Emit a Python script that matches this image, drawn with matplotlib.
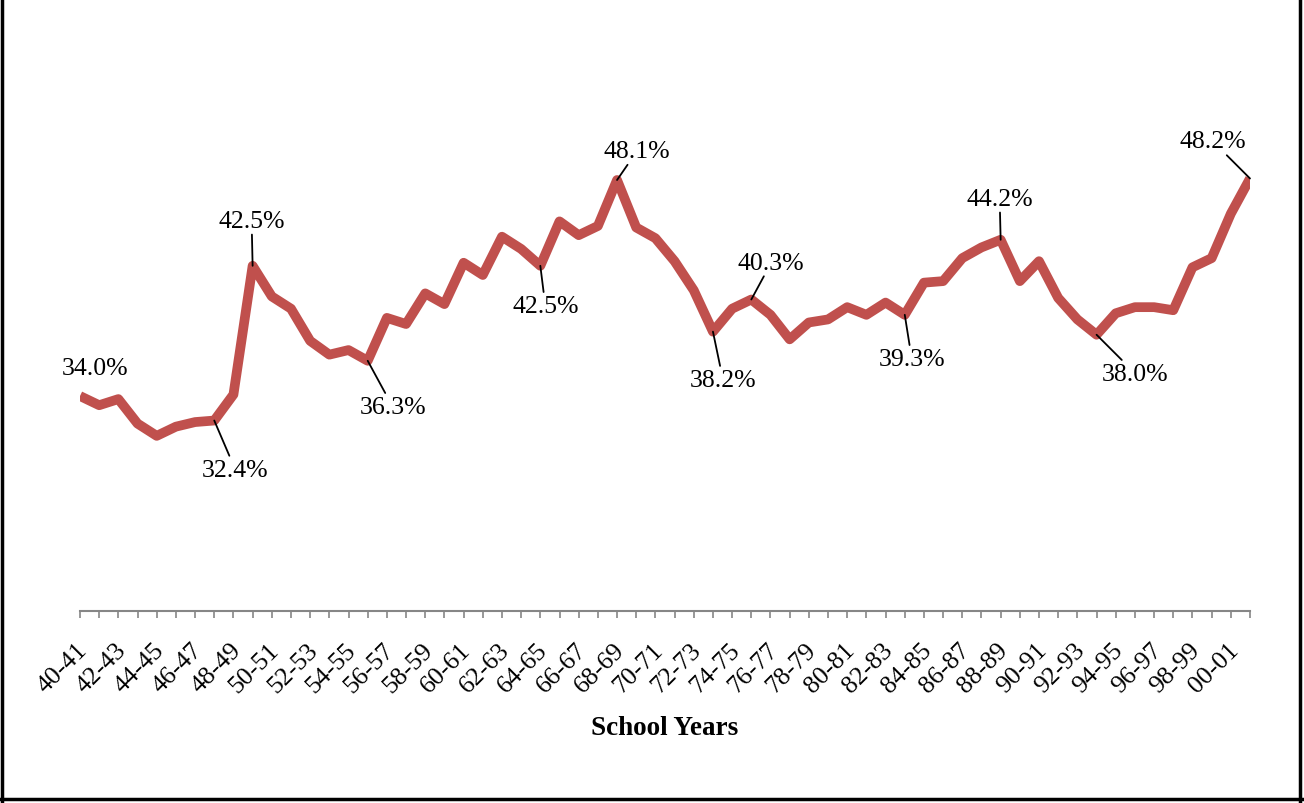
import matplotlib
matplotlib.use("Agg")
import matplotlib.pyplot as plt
import matplotlib.transforms as mtrans
from matplotlib.lines import Line2D

plt.rcParams['font.family'] = ['Liberation Serif', 'DejaVu Serif']

# school years (one per point)
years = ["40-41", "41-42", "42-43", "43-44", "44-45", "45-46", "46-47", "47-48",
         "48-49", "49-50", "50-51", "51-52", "52-53", "53-54", "54-55", "55-56",
         "56-57", "57-58", "58-59", "59-60", "60-61", "61-62", "62-63", "63-64",
         "64-65", "65-66", "66-67", "67-68", "68-69", "69-70", "70-71", "71-72",
         "72-73", "73-74", "74-75", "75-76", "76-77", "77-78", "78-79", "79-80",
         "80-81", "81-82", "82-83", "83-84", "84-85", "85-86", "86-87", "87-88",
         "88-89", "89-90", "90-91", "91-92", "92-93", "93-94", "94-95", "95-96",
         "96-97", "97-98", "98-99", "99-00", "00-01", "01-02"]

# percent values
pct = [34.0, 33.4, 33.8, 32.2, 31.4, 32.0, 32.3, 32.4, 34.1, 42.5,
       40.5, 39.7, 37.6, 36.7, 37.0, 36.3, 39.1, 38.7, 40.7, 40.0,
       42.7, 41.9, 44.4, 43.6, 42.5, 45.4, 44.5, 45.1, 48.1, 45.0,
       44.3, 42.8, 40.9, 38.2, 39.7, 40.3, 39.3, 37.7, 38.8, 39.0,
       39.8, 39.3, 40.1, 39.3, 41.4, 41.5, 43.0, 43.7, 44.2, 41.5,
       42.8, 40.4, 39.0, 38.0, 39.4, 39.8, 39.8, 39.6, 42.4, 43.0,
       45.9, 48.2]

# which points get a data label, and where the label sits (pixels from the point)
label_idx = [0, 7, 9, 15, 24, 28, 33, 35, 43, 48, 53, 61]
label_dx = [15, 21, -1, 25, 5, 20, 10, 20, 7, -1, 39, -37]
label_dy = [28, -49, 45, -46, -40, 29, -48, 37, -44, 41, -39, 37]

red = "#C0504D"
grey = "#868686"

fig = plt.figure(figsize=(13.04, 8.04), dpi=100)
W, H = 1304, 804
ax_l, ax_r = 80, 1250
ax_top, ax_bot = 75.3, 611.5
ax = fig.add_axes([ax_l / W, 1 - ax_bot / H, (ax_r - ax_l) / W, (ax_bot - ax_top) / H])

x = list(range(len(years)))
ax.plot(x, pct, color=red, lw=7, solid_joinstyle='round', solid_capstyle='butt')

for i, dx, dy in zip(label_idx, label_dx, label_dy):
    arrow = None if i == 0 else dict(arrowstyle='-', color='black', lw=1.3,
                                     shrinkA=0, shrinkB=0)
    ax.annotate(f"{pct[i]:.1f}%", xy=(i, pct[i]), xytext=(dx, dy),
                textcoords='offset pixels', ha='center', va='center',
                fontsize=18.5, arrowprops=arrow)

ax.set_xlim(0, len(years) - 1)
ax.set_ylim(20, 55)
ax.set_yticks([])
for s in ['top', 'right', 'left']:
    ax.spines[s].set_visible(False)
ax.spines['bottom'].set_color(grey)
ax.spines['bottom'].set_linewidth(1.5)

ax.set_xticks(x)
ax.set_xticklabels([y if k % 2 == 0 else "" for k, y in enumerate(years)],
                   rotation=45, ha='right', va='center', rotation_mode='anchor',
                   fontsize=18.5)
ax.tick_params(axis='x', length=5, width=1.2, color=grey, pad=21)
shift = mtrans.ScaledTranslation(4 / 100, 0, fig.dpi_scale_trans)
for lab in ax.get_xticklabels():
    lab.set_transform(lab.get_transform() + shift)

ax.set_xlabel("School Years", fontsize=19.5, fontweight='bold', va='center')
ax.xaxis.set_label_coords(0.5, -(729 - ax_bot) / (ax_bot - ax_top))

# outer frame
for xs, ys in [([2 / W, 2 / W], [0, 1]), ([1300 / W, 1300 / W], [0, 1]),
               ([0, 1], [1 - 800 / H, 1 - 800 / H])]:
    fig.add_artist(Line2D(xs, ys, color='black', lw=2.5, transform=fig.transFigure))

fig.savefig("out.png", dpi=100)
